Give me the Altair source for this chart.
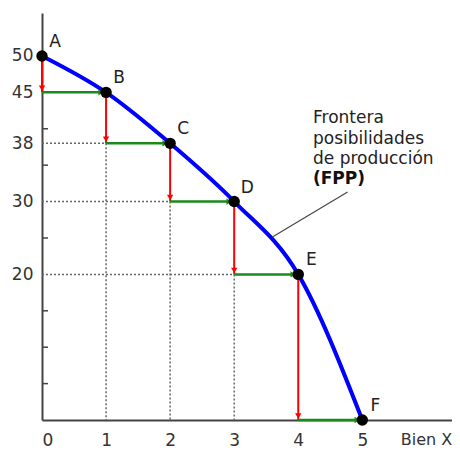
import altair as alt
import pandas as pd

# Data
labels = ["A", "B", "C", "D", "E", "F"]
bien_x = [0, 1, 2, 3, 4, 5]
bien_y = [50, 45, 38, 30, 20, 0]
y_label_ticks = [50, 45, 38, 30, 20]
y_minor_ticks = [40, 35, 25, 15, 10, 5]
x_ticks = [0, 1, 2, 3, 4, 5]

# dotted guides
h_dot_y = [38, 30, 20]
h_dot_x0 = [0, 0, 0]
h_dot_x1 = [1, 2, 3]
v_dot_x = [1, 2, 3]
v_dot_y0 = [38, 30, 20]
v_dot_y1 = [0, 0, 0]

# annotation
note_lines = ["Frontera", "posibilidades", "de producción"]
note_bold = "(FPP)"
note_x = 4.23
note_y = [40.8, 37.9, 35.1]
note_bold_y = 32.4
leader_x = [4.77, 3.59]
leader_y = [31.3, 25.1]
bien_label_x = 5.6

FONT = "DejaVu Sans"
FS = 17
XMAX = 6.4
YMAX = 55.9

pts = pd.DataFrame({"label": labels, "x": bien_x, "y": bien_y})
red = pd.DataFrame({"x": bien_x[:-1], "y0": bien_y[:-1], "y1": bien_y[1:]})
green = pd.DataFrame({"x0": bien_x[:-1], "x1": bien_x[1:], "y": bien_y[1:]})
hd = pd.DataFrame({"y": h_dot_y, "x0": h_dot_x0, "x1": h_dot_x1})
vd = pd.DataFrame({"x": v_dot_x, "y0": v_dot_y0, "y1": v_dot_y1})
minor = pd.DataFrame({"y": y_minor_ticks})
notes = pd.DataFrame({"t": note_lines, "y": note_y, "x": [note_x] * 3})
bold = pd.DataFrame({"t": [note_bold], "y": [note_bold_y], "x": [note_x]})
leader = pd.DataFrame({"x": leader_x, "y": leader_y, "o": [0, 1]})
bienx = pd.DataFrame({"t": ["Bien X"], "x": [bien_label_x], "y": [0]})

xs = alt.Scale(domain=[0, XMAX], nice=False, zero=False)
ys = alt.Scale(domain=[0, YMAX], nice=False, zero=False)

xaxis = alt.Axis(values=x_ticks, ticks=False, grid=False, title=None, labelFontSize=FS,
                 labelFont=FONT, labelColor="#333", labelPadding=12, domainColor="#444",
                 domainWidth=2, format="d")
yaxis = alt.Axis(values=y_label_ticks, ticks=False, grid=False, title=None, labelFontSize=FS,
                 labelFont=FONT, labelColor="#333", labelPadding=9, domainColor="#444",
                 domainWidth=2, format="d")

base = alt.Chart(pts)

axes_layer = base.mark_point(opacity=0).encode(
    x=alt.X("x:Q", scale=xs, axis=xaxis),
    y=alt.Y("y:Q", scale=ys, axis=yaxis),
)

minor_layer = alt.Chart(minor).mark_rule(color="#444", strokeWidth=1.5).encode(
    y="y:Q", x=alt.value(0), x2=alt.value(6)
)

hdot = alt.Chart(hd).mark_rule(color="#666", strokeWidth=1.5, strokeDash=[2, 2]).encode(
    x="x0:Q", x2="x1:Q", y="y:Q"
)
vdot = alt.Chart(vd).mark_rule(color="#666", strokeWidth=1.5, strokeDash=[2, 2]).encode(
    x="x:Q", y="y0:Q", y2="y1:Q"
)

curve = base.mark_line(color="#0000ff", strokeWidth=4, interpolate="monotone").encode(
    x="x:Q", y="y:Q"
)

red_lines = alt.Chart(red).mark_rule(color="#ff0000", strokeWidth=2).encode(
    x="x:Q", y="y0:Q", y2="y1:Q"
)
red_heads = alt.Chart(red).mark_point(shape="triangle-down", filled=True, color="#ff0000",
                                      size=40, opacity=1, yOffset=-4).encode(x="x:Q", y="y1:Q")

green_lines = alt.Chart(green).mark_rule(color="#1a8a1a", strokeWidth=2.5).encode(
    x="x0:Q", x2="x1:Q", y="y:Q"
)
green_heads = alt.Chart(green).mark_point(shape="triangle-right", filled=True, color="#1a8a1a",
                                          size=40, opacity=1, xOffset=-5).encode(x="x1:Q", y="y:Q")

dots = base.mark_circle(color="black", size=130, opacity=1).encode(x="x:Q", y="y:Q")
dot_labels = base.mark_text(font=FONT, fontSize=FS, color="#222", dx=13, dy=-14,
                            align="center").encode(x="x:Q", y="y:Q", text="label:N")

leader_line = alt.Chart(leader).mark_line(color="#444", strokeWidth=1.2).encode(
    x="x:Q", y="y:Q", order="o:Q"
)
note_text = alt.Chart(notes).mark_text(font=FONT, fontSize=FS, color="#222", align="left",
                                       baseline="alphabetic").encode(x="x:Q", y="y:Q", text="t:N")
note_bold_text = alt.Chart(bold).mark_text(font=FONT, fontSize=FS, color="#111", align="left",
                                           baseline="alphabetic", fontWeight="bold").encode(
    x="x:Q", y="y:Q", text="t:N")
bienx_text = alt.Chart(bienx).mark_text(font=FONT, fontSize=16, color="#333", align="left",
                                        baseline="top", dy=12).encode(x="x:Q", y="y:Q", text="t:N")

chart = alt.layer(
    axes_layer, minor_layer, hdot, vdot, curve, red_lines, red_heads, green_lines, green_heads,
    leader_line, dots, dot_labels, note_text, note_bold_text, bienx_text
).properties(
    width=410, height=407,
    autosize=alt.AutoSizeParams(type="none"),
    padding={"left": 34, "top": 5, "right": 0, "bottom": 30},
).configure_view(stroke=None)

chart.save("out.html", embed_options={"renderer": "svg", "actions": False})
